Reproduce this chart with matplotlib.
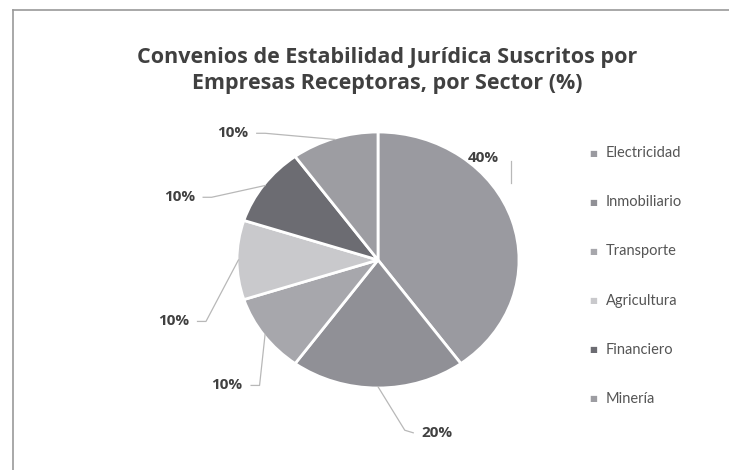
import matplotlib
matplotlib.use("Agg")
import matplotlib.pyplot as plt
import numpy as np
from matplotlib.lines import Line2D

sectors = ["Electricidad", "Inmobiliario", "Transporte", "Agricultura", "Financiero", "Minería"]
shares = [40, 20, 10, 10, 10, 10]
labels = ["40%", "20%", "10%", "10%", "10%", "10%"]
colors = ["#9a9aa0", "#909096", "#a7a7ac", "#c9c9cc", "#6c6c72", "#9d9da2"]
# label centres, in pie units (radius = 1)
label_pos = [(0.75, 0.80), (0.42, -1.35), (-1.07, -0.98), (-1.45, -0.48), (-1.41, 0.49), (-1.03, 0.99)]

TXT = "#404040"
plt.rcParams["font.family"] = ["Lato", "DejaVu Sans"]

W, H = 729, 470
fig = plt.figure(figsize=(W / 100, H / 100), dpi=100)

# pie axes: centre (378, 260) px, radii 141 x 128 px
cx, cy, rx, ry = 378, 260, 141, 128
ax = fig.add_axes([(cx - rx) / W, (H - cy - ry) / H, 2 * rx / W, 2 * ry / H])
ax.axis("off")

wedges, _ = ax.pie(shares, colors=colors, startangle=90, counterclock=False, radius=1,
                   wedgeprops=dict(edgecolor="white", linewidth=2), frame=False)
ax.set_aspect("auto")
ax.set_xlim(-1, 1); ax.set_ylim(-1, 1)

for w, lab, (lx, ly) in zip(wedges, labels, label_pos):
    mid = np.deg2rad((w.theta1 + w.theta2) / 2)
    ax0, ay0 = np.cos(mid), np.sin(mid)
    ax.text(lx, ly, lab, ha="center", va="center", fontsize=11, fontweight="bold",
            color=TXT, family=["Open Sans", "DejaVu Sans"], clip_on=False)
    if lx < 0:
        ex = lx + 0.17
        ax.plot([ex, ex + 0.06, ax0 * 0.99], [ly, ly, ay0 * 0.99], color="#b8b8b8",
                lw=0.9, clip_on=False)
    elif ly < 0:
        ex = lx - 0.17
        ax.plot([ex, ex - 0.06, ax0], [ly, ly + 0.02, ay0 * 0.99], color="#b8b8b8",
                lw=0.9, clip_on=False)
    else:
        ax.plot([ax0 * 0.99, ax0 * 0.99], [ly - 0.03, ly - 0.2], color="#b8b8b8",
                lw=0.9, clip_on=False)

for k, line in enumerate(["Convenios de Estabilidad Jurídica Suscritos por",
                          "Empresas Receptoras, por Sector (%)"]):
    fig.text(387 / W, 1 - (58 + k * 26) / H, line, ha="center", va="center", fontsize=15.5,
             fontweight="bold", color=TXT, family=["Open Sans", "DejaVu Sans"])

# legend
for i, (s, c) in enumerate(zip(sectors, colors)):
    y = 1 - (153 + i * 49.2) / H
    fig.text(593 / W, y, "\u25A0", ha="center", va="center", fontsize=6, color=c)
    fig.text(606 / W, y, s, ha="left", va="center", fontsize=10.5, color="#555555")

# scanned chart frame (left and top edges visible)
fig.add_artist(Line2D([13 / W, 13 / W], [0, 1 - 10 / H], color="#9a9a9a", lw=1.2))
fig.add_artist(Line2D([13 / W, 1], [1 - 10 / H, 1 - 10 / H], color="#9a9a9a", lw=1.2))

fig.savefig("out.png", dpi=100, facecolor="white")
